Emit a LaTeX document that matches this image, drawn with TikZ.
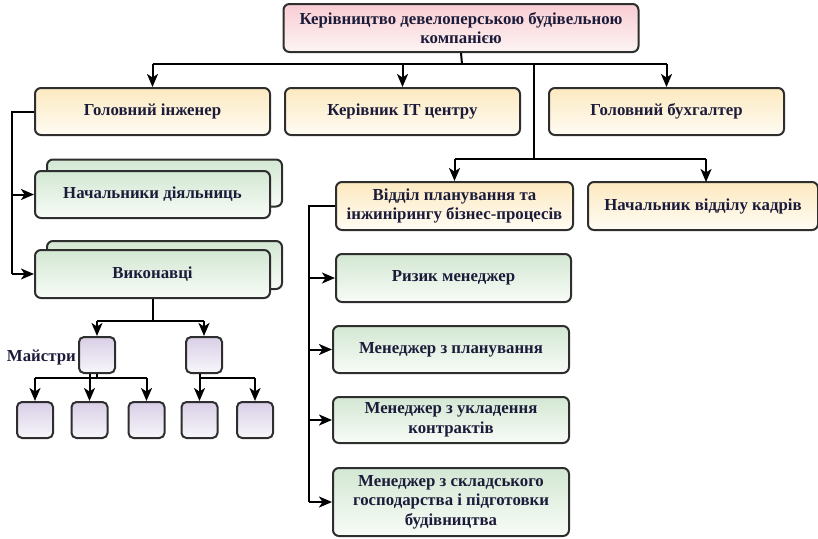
\documentclass[tikz,border=0pt]{standalone}
\usepackage{fontspec}
\setmainfont{Liberation Serif}[BoldFont={Liberation Serif Bold}]
\usetikzlibrary{arrows.meta}
\definecolor{bordc}{HTML}{2E2E2E}
\definecolor{txtc}{HTML}{1C1C3A}
\definecolor{pinkT}{HTML}{F8CDD3}
\definecolor{pinkB}{HTML}{FDF4F4}
\definecolor{yelT}{HTML}{FCE9C0}
\definecolor{yelB}{HTML}{FFFCF4}
\definecolor{grnT}{HTML}{D3E7D3}
\definecolor{grnB}{HTML}{F8FCF7}
\definecolor{purT}{HTML}{D8CFE6}
\definecolor{purB}{HTML}{F8F6FA}
\begin{document}
\begin{tikzpicture}[x=1pt,y=-1pt,
  box/.style={draw=bordc, line width=2pt, rounded corners=6pt, inner sep=2pt,
    align=center, text=txtc, font=\rmfamily\bfseries\fontsize{16.8}{19.5}\selectfont},
  pinkbox/.style={box, top color=pinkT, bottom color=pinkB},
  yelbox/.style={box, top color=yelT, bottom color=yelB, minimum height=47pt},
  grnbox/.style={box, top color=grnT, bottom color=grnB},
  sq/.style={box, top color=purT, bottom color=purB, minimum width=36pt, minimum height=36pt, rounded corners=5pt},
  conn/.style={draw=black, line width=2pt},
  arr/.style={conn, -{Stealth[length=13pt,width=11pt,inset=3.5pt]}},
  lbl/.style={text=txtc, font=\rmfamily\bfseries\fontsize{16.8}{19.5}\selectfont, inner sep=0pt}
]
\useasboundingbox (0,0) rectangle (818,538);

% top
\node[pinkbox, minimum width=355pt, minimum height=48pt] (top) at (461,28)
  {Керівництво девелоперською будівельною\\компанією};

% row 1
\node[yelbox, minimum width=235pt] (gi) at (152.5,111.5) {Головний інженер};
\node[yelbox, minimum width=235pt] (it) at (402.5,111.5) {Керівник IT центру};
\node[yelbox, minimum width=235pt] (gb) at (666.5,111.5) {Головний бухгалтер};

% left green stacked boxes
\node[grnbox, minimum width=235pt, minimum height=47pt] (ndb) at (164.5,183) {};
\node[grnbox, minimum width=235pt, minimum height=47pt] (nd) at (152.5,194.5) {Начальники діяльниць};
\node[grnbox, minimum width=235pt, minimum height=48pt] (vkb) at (164.5,265) {};
\node[grnbox, minimum width=235pt, minimum height=48pt] (vk) at (152.5,274) {Виконавці};

% right row 2
\node[yelbox, minimum width=237pt, minimum height=48pt] (vp) at (454.5,206)
  {Відділ планування та\\інжинірингу бізнес-процесів};
\node[yelbox, minimum width=230pt, minimum height=48pt] (kd) at (703,206) {Начальник відділу кадрів};

% right column
\node[grnbox, minimum width=235pt, minimum height=48pt] (rm) at (453.5,278) {Ризик менеджер};
\node[grnbox, minimum width=236pt, minimum height=47pt] (mp) at (451,349.5) {Менеджер з планування};
\node[grnbox, minimum width=236pt, minimum height=46pt] (mu) at (451,420) {Менеджер з укладення\\контрактів};
\node[grnbox, minimum width=236pt, minimum height=68pt] (ms) at (451,502)
  {Менеджер з складського\\господарства і підготовки\\будівництва};

% small squares
\node[sq] (m1) at (97,355) {};
\node[sq] (m2) at (204,355) {};
\node[sq] (b1) at (35,420) {};
\node[sq] (b2) at (89.5,420) {};
\node[sq] (b3) at (146.5,420) {};
\node[sq] (b4) at (199.5,420) {};
\node[sq] (b5) at (255,420) {};
\node[lbl, anchor=east] (mlbl) at (76,357) {Майстри};

% junction coordinates
\coordinate (j1) at (462,64);
\coordinate (j2) at (534,159);
\coordinate (lx) at (12,0);
\coordinate (rx) at (309,0);
\coordinate (j3) at (152.5,321);
\coordinate (j4) at (97,378);
\coordinate (j5) at (199.5,378);

% top connectors
\draw[conn] (top.south) -- (j1);
\draw[conn] (gi.north |- j1) -- (gb.north |- j1);
\draw[arr] (gi.north |- j1) -- (gi.north);
\draw[arr] (it.north |- j1) -- (it.north);
\draw[arr] (gb.north |- j1) -- (gb.north);
\draw[conn] (j2 |- j1) -- (j2);
\draw[conn] (vp.north |- j2) -- (706,159);
\draw[arr] (vp.north |- j2) -- (vp.north);
\draw[arr] (706,159) -- (706,182);

% left connectors
\draw[conn] (gi.west) -- (lx |- gi.west) -- (lx |- vk.west);
\draw[arr] (lx |- nd.west) -- (nd.west);
\draw[arr] (lx |- vk.west) -- (vk.west);

% workers to masters
\draw[conn] (vk.south) -- (j3);
\draw[conn] (m1.north |- j3) -- (m2.north |- j3);
\draw[arr] (m1.north |- j3) -- (m1.north);
\draw[arr] (m2.north |- j3) -- (m2.north);

% master 1 children
\draw[conn] (m1.south) -- (j4);
\draw[conn] (b1.north |- j4) -- (b3.north |- j4);
\draw[arr] (b1.north |- j4) -- (b1.north);
\draw[arr] (b2.north |- m1.south) -- (b2.north);
\draw[arr] (b3.north |- j4) -- (b3.north);

% master 2 children
\draw[arr] (b4.north |- m2.south) -- (b4.north);
\draw[conn] (j5) -- (b5.north |- j5);
\draw[arr] (b5.north |- j5) -- (b5.north);

% right column connectors
\draw[conn] (vp.west) -- (rx |- vp.west) -- (rx |- ms.west);
\draw[arr] (rx |- rm.west) -- (rm.west);
\draw[arr] (rx |- mp.west) -- (mp.west);
\draw[arr] (rx |- mu.west) -- (mu.west);
\draw[arr] (rx |- ms.west) -- (ms.west);
\end{tikzpicture}
\end{document}
